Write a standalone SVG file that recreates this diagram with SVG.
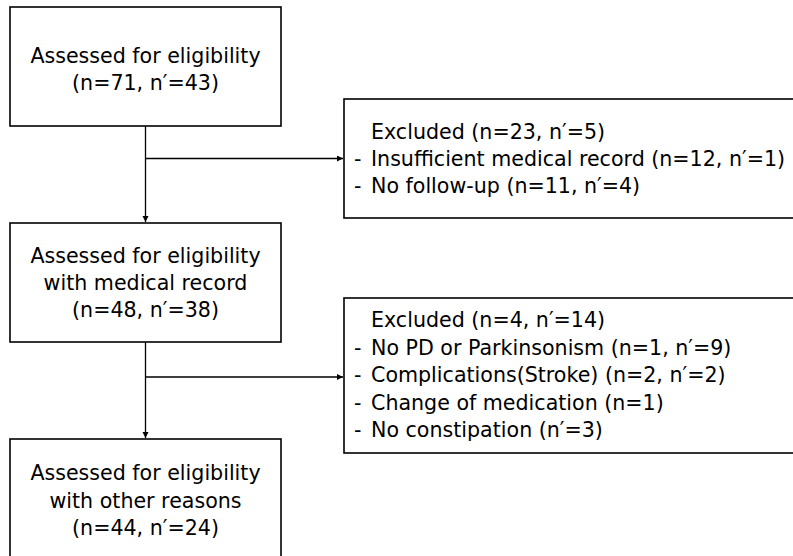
<svg xmlns="http://www.w3.org/2000/svg" width="793" height="556" viewBox="0 0 793 556">
<defs>
<style>
.box{fill:#fff;stroke:#000;stroke-width:1.6}
.t{font-family:"DejaVu Sans","Noto Sans",sans-serif;font-size:20.6px;fill:#000}
.c{text-anchor:middle}
.ln{stroke:#000;stroke-width:1.3;fill:none}
</style>
<marker id="ah" markerWidth="8" markerHeight="8" refX="6" refY="3" orient="auto" markerUnits="userSpaceOnUse">
<path d="M0,0 L6,3 L0,6 Z" fill="#000"/>
</marker>
</defs>
<rect width="793" height="556" fill="#fff"/>
<g id="connectors">
<line class="ln" x1="145.5" y1="126" x2="145.5" y2="222" marker-end="url(#ah)"/>
<line class="ln" x1="145.5" y1="158.5" x2="343" y2="158.5" marker-end="url(#ah)"/>
<line class="ln" x1="145.5" y1="342" x2="145.5" y2="438" marker-end="url(#ah)"/>
<line class="ln" x1="145.5" y1="377" x2="343" y2="377" marker-end="url(#ah)"/>
</g>
<g id="n1">
<rect class="box" x="10" y="7" width="271" height="119"/>
<text class="t c"><tspan x="145.5" y="63">Assessed for eligibility</tspan><tspan x="145.5" y="90">(n=71, n′=43)</tspan></text>
</g>
<g id="x1">
<rect class="box" x="344" y="99" width="460" height="119"/>
<text class="t"><tspan x="371" y="139">Excluded (n=23, n′=5)</tspan><tspan x="354" y="166">-</tspan><tspan x="371" y="166">Insufficient medical record (n=12, n′=1)</tspan><tspan x="354" y="193">-</tspan><tspan x="371" y="193">No follow-up (n=11, n′=4)</tspan></text>
</g>
<g id="n2">
<rect class="box" x="10" y="223" width="271" height="119"/>
<text class="t c"><tspan x="145.5" y="263">Assessed for eligibility</tspan><tspan x="145.5" y="290">with medical record</tspan><tspan x="145.5" y="317">(n=48, n′=38)</tspan></text>
</g>
<g id="x2">
<rect class="box" x="344" y="298" width="460" height="155"/>
<text class="t"><tspan x="371" y="327">Excluded (n=4, n′=14)</tspan><tspan x="354" y="355">-</tspan><tspan x="371" y="355">No PD or Parkinsonism (n=1, n′=9)</tspan><tspan x="354" y="382">-</tspan><tspan x="371" y="382">Complications(Stroke) (n=2, n′=2)</tspan><tspan x="354" y="410">-</tspan><tspan x="371" y="410">Change of medication (n=1)</tspan><tspan x="354" y="437">-</tspan><tspan x="371" y="437">No constipation (n′=3)</tspan></text>
</g>
<g id="n3">
<rect class="box" x="10" y="439" width="271" height="130"/>
<text class="t c"><tspan x="145.5" y="480">Assessed for eligibility</tspan><tspan x="145.5" y="508">with other reasons</tspan><tspan x="145.5" y="535">(n=44, n′=24)</tspan></text>
</g>
</svg>
